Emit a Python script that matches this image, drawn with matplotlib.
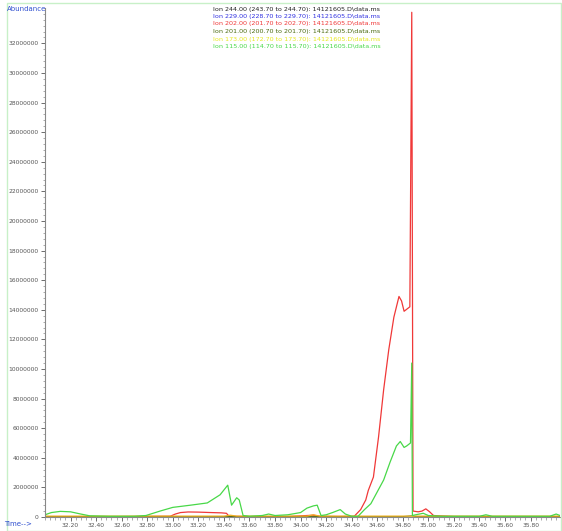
import matplotlib
matplotlib.use("Agg")
import matplotlib.pyplot as plt
from matplotlib.ticker import MultipleLocator, FixedLocator
from matplotlib.patches import Rectangle

# ---- data (time in min, abundance in millions) ----
red_t = [32.00, 32.50, 32.98, 33.02, 33.06, 33.12, 33.20, 33.30, 33.38, 33.42, 33.44, 33.60,
         33.90, 34.05, 34.10, 34.15, 34.30, 34.42, 34.47, 34.51, 34.53, 34.57, 34.61, 34.65,
         34.69, 34.73, 34.77, 34.79, 34.81, 34.855, 34.87, 34.88, 34.92, 34.95, 34.98,
         35.01, 35.04, 35.20, 35.60, 36.03]
red_v = [0.02, 0.02, 0.05, 0.20, 0.30, 0.34, 0.33, 0.30, 0.28, 0.25, 0.05, 0.03,
         0.03, 0.10, 0.12, 0.05, 0.03, 0.05, 0.50, 1.15, 1.80, 2.70, 5.40, 8.60,
         11.3, 13.5, 14.9, 14.6, 13.9, 14.2, 34.1, 0.40, 0.35, 0.40, 0.55,
         0.35, 0.10, 0.03, 0.02, 0.02]

green_t = [32.00, 32.05, 32.12, 32.20, 32.28, 32.35, 32.50, 32.70, 32.79, 32.90, 33.00, 33.14,
           33.27, 33.37, 33.43, 33.46, 33.50, 33.52, 33.55, 33.60, 33.70, 33.75, 33.80, 33.90,
           34.00, 34.05, 34.10, 34.13, 34.16, 34.20, 34.25, 34.31, 34.35, 34.40, 34.45, 34.50,
           34.55, 34.60, 34.65, 34.70, 34.75, 34.78, 34.81, 34.83, 34.86, 34.87, 34.875, 34.90,
           34.96, 35.00, 35.10, 35.40, 35.45, 35.50, 35.80, 35.95, 36.00, 36.03]
green_v = [0.15, 0.30, 0.38, 0.35, 0.20, 0.08, 0.05, 0.05, 0.10, 0.40, 0.65, 0.80,
           0.95, 1.50, 2.15, 0.80, 1.30, 1.15, 0.10, 0.05, 0.10, 0.20, 0.10, 0.15,
           0.30, 0.60, 0.75, 0.80, 0.10, 0.15, 0.30, 0.50, 0.20, 0.05, 0.05, 0.50,
           0.90, 1.70, 2.50, 3.70, 4.80, 5.10, 4.70, 4.80, 5.00, 10.4, 0.10, 0.15,
           0.25, 0.10, 0.05, 0.05, 0.15, 0.05, 0.05, 0.05, 0.20, 0.10]

yellow_t = [32.00, 33.40, 33.45, 33.50, 34.05, 34.10, 34.15, 35.00, 36.03]
yellow_v = [0.06, 0.06, 0.12, 0.06, 0.06, 0.15, 0.06, 0.06, 0.06]

olive_t = [32.00, 34.80, 34.87, 34.90, 36.03]
olive_v = [0.03, 0.03, 0.08, 0.03, 0.03]

blue_t = [32.00, 36.03]
blue_v = [0.01, 0.01]

black_t = [32.00, 36.03]
black_v = [0.01, 0.01]

legend_labels = [
    "Ion 244.00 (243.70 to 244.70): 14121605.D\\data.ms",
    "Ion 229.00 (228.70 to 229.70): 14121605.D\\data.ms",
    "Ion 202.00 (201.70 to 202.70): 14121605.D\\data.ms",
    "Ion 201.00 (200.70 to 201.70): 14121605.D\\data.ms",
    "Ion 173.00 (172.70 to 173.70): 14121605.D\\data.ms",
    "Ion 115.00 (114.70 to 115.70): 14121605.D\\data.ms",
]
legend_colors = ["#222222", "#3030e0", "#f03838", "#4a6a10", "#e8e820", "#48d848"]

x_ticks = [32.2, 32.4, 32.6, 32.8, 33.0, 33.2, 33.4, 33.6, 33.8, 34.0, 34.2, 34.4,
           34.6, 34.8, 35.0, 35.2, 35.4, 35.6, 35.8]
y_ticks = [0, 2, 4, 6, 8, 10, 12, 14, 16, 18, 20, 22, 24, 26, 28, 30, 32]

W, H = 562, 531
fig = plt.figure(figsize=(W / 100, H / 100), dpi=100)
fig.patch.set_facecolor("white")
ax = fig.add_axes([45 / W, (H - 517) / H, (560 - 45) / W, (517 - 8) / H])

S = 1e6
ax.plot(black_t, [v * S for v in black_v], color=legend_colors[0], lw=0.7)
ax.plot(blue_t, [v * S for v in blue_v], color=legend_colors[1], lw=0.7)
ax.plot(red_t, [v * S for v in red_v], color=legend_colors[2], lw=0.9)
ax.plot(olive_t, [v * S for v in olive_v], color=legend_colors[3], lw=0.7)
ax.plot(yellow_t, [v * S for v in yellow_v], color="#f0b020", lw=0.9)
ax.plot(green_t, [v * S for v in green_v], color=legend_colors[5], lw=0.9)

ax.set_xlim(32.00, 36.03)
ax.set_ylim(0, 34.39e6)

for s in ["top", "right"]:
    ax.spines[s].set_visible(False)
for s in ["left", "bottom"]:
    ax.spines[s].set_color("#888888")
    ax.spines[s].set_linewidth(0.8)

ax.xaxis.set_major_locator(FixedLocator(x_ticks))
ax.xaxis.set_minor_locator(MultipleLocator(0.04))
ax.set_xticklabels([f"{t:.2f}" for t in x_ticks])
ax.yaxis.set_major_locator(FixedLocator([v * S for v in y_ticks]))
ax.yaxis.set_minor_locator(MultipleLocator(0.4e6))
ax.set_yticklabels([str(int(v * S)) for v in y_ticks])

ax.tick_params(axis="both", which="major", labelsize=4.3, colors="#555555",
               length=3, width=0.6, pad=1.5, direction="out")
ax.tick_params(axis="both", which="minor", length=1.8, width=0.5,
               colors="#888888", direction="out")

fig.text(7 / W, 1 - 9 / H, "Abundance", color="#3050d0", fontsize=5,
         ha="left", va="center")
fig.text(4 / W, 1 - 524 / H, "Time-->", color="#3050d0", fontsize=5,
         ha="left", va="center")

for i, (lab, col) in enumerate(zip(legend_labels, legend_colors)):
    fig.text(213 / W, 1 - (9 + 7.5 * i) / H, lab, color=col, fontsize=4.6,
             ha="left", va="center")

fig.patches.append(Rectangle((7 / W, 0), (561 - 7) / W, 1 - 3 / H,
                             transform=fig.transFigure, fill=False,
                             edgecolor="#c8f0c8", lw=1.0))

fig.savefig("out.png", dpi=100)
